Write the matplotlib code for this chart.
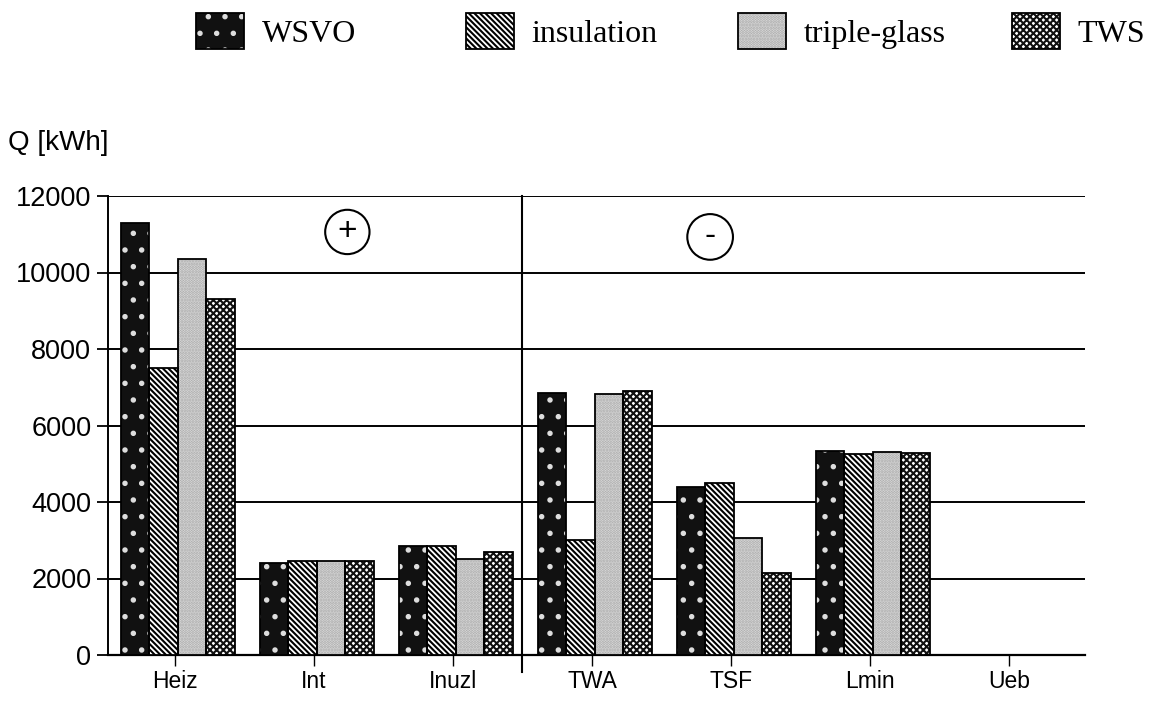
import matplotlib
matplotlib.use("Agg")
import matplotlib.pyplot as plt
import numpy as np
from matplotlib.patches import Patch
from matplotlib.legend_handler import HandlerTuple

categories = ["Heiz", "Int", "Inuzl", "TWA", "TSF", "Lmin", "Ueb"]
series_names = ["WSVO", "insulation", "triple-glass", "TWS"]
wsvo = [11300, 2400, 2850, 6850, 4400, 5330, 0]
insulation = [7500, 2450, 2850, 3000, 4500, 5250, 0]
triple_glass = [10350, 2450, 2500, 6830, 3050, 5300, 0]
tws = [9300, 2450, 2700, 6900, 2150, 5280, 0]
yticks = [0, 2000, 4000, 6000, 8000, 10000, 12000]

plt.rcParams["hatch.linewidth"] = 1.5
sans = "Liberation Sans"
serif = "Liberation Serif"

styles = [
    dict(fc="#111111", hc="#dddddd", hatch="."),
    dict(fc="white", hc="black", hatch="\\\\\\\\\\\\"),
    dict(fc="#e2e2e2", hc="#a5a5a5", hatch="......"),
    dict(fc="white", hc="#111111", hatch="xxxxx"),
]

fig = plt.figure(figsize=(11.63, 7.04), dpi=100)
ax = fig.add_axes([108/1163, 1-655/704, (1085-108)/1163, (655-196)/704])

x = np.arange(len(categories))
w = 0.205
data = [wsvo, insulation, triple_glass, tws]
for k, (vals, st) in enumerate(zip(data, styles)):
    pos = x + (k - 1.5) * w + 0.02
    ax.bar(pos, vals, w, color=st["fc"], edgecolor=st["hc"], hatch=st["hatch"],
           linewidth=0, zorder=3)
    ax.bar(pos, vals, w, facecolor="none", edgecolor="black", linewidth=1.3, zorder=4)

ax.set_xlim(-0.482, 6.547)
ax.set_ylim(0, 12000)
ax.set_yticks(yticks)
ax.set_yticklabels([str(v) for v in yticks], fontsize=19.5, family=sans)
ax.set_xticks(x)
ax.set_xticklabels(categories, fontsize=16.5, family=sans)
ax.grid(axis="y", color="black", linewidth=1.4, zorder=1)
for s in ["top", "right"]:
    ax.spines[s].set_visible(False)
ax.spines["left"].set_linewidth(1.4)
ax.spines["bottom"].set_linewidth(1.6)
ax.tick_params(axis="y", length=8, width=1.3, pad=4)
ax.tick_params(axis="x", length=8, width=1.0, pad=3)

ax.axvline(2.5, ymin=-0.037, ymax=1.0, color="black", linewidth=1.5, clip_on=False, zorder=5)

ax.text(1.24, 11060, "+", fontsize=24, family=sans, ha="center", va="center",
        bbox=dict(boxstyle="circle,pad=0.2", fc="white", ec="black", lw=1.5), zorder=6)
ax.text(3.85, 10930, "-", fontsize=24, family=sans, ha="center", va="center",
        bbox=dict(boxstyle="circle,pad=0.22", fc="white", ec="black", lw=1.5), zorder=6)

fig.text(8/1163, 1-143/704, "Q [kWh]", fontsize=20, family=sans, ha="left", va="center")

legend_left = [196, 466, 738, 1012]
for name, st, lx in zip(series_names, styles, legend_left):
    h1 = Patch(facecolor=st["fc"], edgecolor=st["hc"], hatch=st["hatch"], linewidth=0)
    h2 = Patch(facecolor="none", edgecolor="black", linewidth=1.3)
    fig.legend([(h1, h2)], [name], handler_map={tuple: HandlerTuple(ndivide=1, pad=0)},
               loc="center left", bbox_to_anchor=(lx/1163, 1-31/704), frameon=False,
               prop=dict(family=serif, size=23), handlelength=1.5, handleheight=1.4,
               handletextpad=0.55, borderpad=0, borderaxespad=0)

fig.savefig("out.png", dpi=100)
